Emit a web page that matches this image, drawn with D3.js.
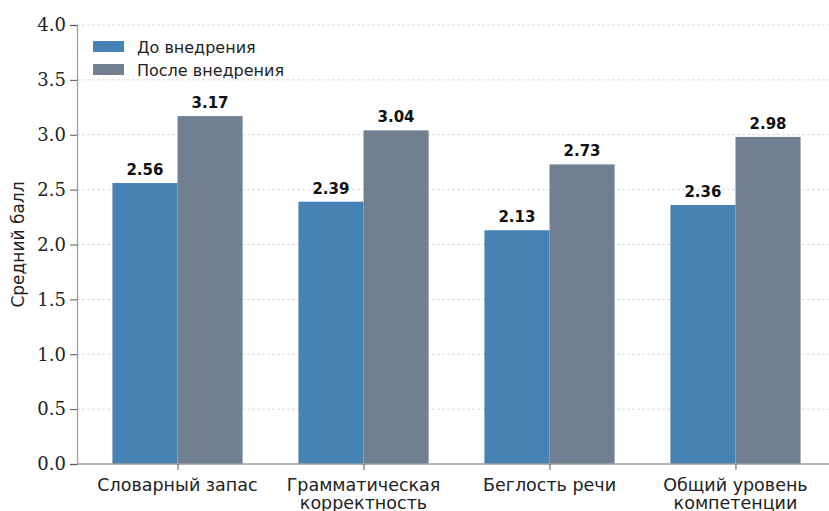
<!DOCTYPE html>
<html><head><meta charset="utf-8">
<script src="https://cdn.jsdelivr.net/npm/d3@7"></script>
<style>body{margin:0;background:#fff}</style>
</head><body>
<svg id="c" width="829" height="511"></svg>
<script>
const categories = [["Словарный запас"], ["Грамматическая", "корректность"], ["Беглость речи"], ["Общий уровень", "компетенции"]];
const seriesNames = ["До внедрения", "После внедрения"];
const before = [2.56, 2.39, 2.13, 2.36];
const after = [3.17, 3.04, 2.73, 2.98];
const yTicks = [0, 0.5, 1.0, 1.5, 2.0, 2.5, 3.0, 3.5, 4.0];
const colors = ["#4682B4", "#708090"];

const svg = d3.select("#c");
const mLeft = 77, mTop = 25, mBottom = 464;
const x = d3.scaleLinear().domain([-0.535, 3.535]).range([78, 835]);
const y = d3.scaleLinear().domain([0, 4]).range([mBottom, mTop]);
const bw = 0.35;

// grid
svg.append("g").selectAll("line").data(yTicks).join("line")
  .attr("x1", mLeft).attr("x2", 829).attr("y1", d => y(d)).attr("y2", d => y(d))
  .attr("stroke", "#d0d0d0").attr("stroke-width", 0.8).attr("stroke-dasharray", "3,2");

// bars
const series = [before, after];
series.forEach((vals, s) => {
  const off = s === 0 ? -bw / 2 : bw / 2;
  svg.append("g").selectAll("rect").data(vals).join("rect")
    .attr("x", (d, i) => x(i + off - bw / 2))
    .attr("width", (d, i) => x(i + off + bw / 2) - x(i + off - bw / 2))
    .attr("y", d => y(d)).attr("height", d => y(0) - y(d))
    .attr("fill", colors[s]);
  svg.append("g").selectAll("text").data(vals).join("text")
    .attr("x", (d, i) => x(i + off)).attr("y", d => y(d) - 8)
    .attr("text-anchor", "middle").attr("font-family", "DejaVu Sans").attr("font-weight", "bold")
    .attr("font-size", 15).attr("fill", "#111").text(d => d.toFixed(2));
});

// y axis
const yAxis = d3.axisLeft(y).tickValues(yTicks).tickFormat(d3.format(".1f")).tickSize(7).tickPadding(4);
const gy = svg.append("g").attr("transform", `translate(${mLeft},0)`).call(yAxis);
gy.attr("font-family", null).attr("font-size", null);
gy.select(".domain").attr("stroke", "#a0a0a0").attr("stroke-width", 1.3);
gy.selectAll(".tick line").attr("stroke", "#555");
gy.selectAll("text").style("font-family", "'DejaVu Serif', serif").style("font-size", "18px").attr("fill", "#222");

// x axis
const xAxis = d3.axisBottom(x).tickValues([0, 1, 2, 3]).tickSize(6).tickFormat("");
const gx = svg.append("g").attr("transform", `translate(0,${mBottom})`).call(xAxis);
gx.select(".domain").attr("stroke", "#a0a0a0").attr("stroke-width", 1.3).attr("d", `M${mLeft},0H829`);
gx.selectAll(".tick line").attr("stroke", "#555");
categories.forEach((lines, i) => {
  const t = svg.append("text").attr("x", x(i)).attr("y", mBottom + 27)
    .attr("text-anchor", "middle").attr("font-family", "DejaVu Sans").attr("font-size", 17.5).attr("fill", "#222");
  lines.forEach((l, j) => t.append("tspan").attr("x", x(i)).attr("dy", j === 0 ? 0 : 18).text(l));
});

// y label
svg.append("text").attr("transform", `translate(24,${(mTop + mBottom) / 2}) rotate(-90)`)
  .attr("text-anchor", "middle").attr("font-family", "DejaVu Sans").attr("font-size", 17).attr("fill", "#222")
  .text("Средний балл");

// legend
const lg = svg.append("g").attr("transform", "translate(93,41)");
seriesNames.forEach((n, i) => {
  lg.append("rect").attr("x", 0).attr("y", i * 23).attr("width", 31).attr("height", 11).attr("fill", colors[i]);
  lg.append("text").attr("x", 44).attr("y", i * 23 + 11.5).attr("font-family", "DejaVu Sans")
    .attr("font-size", 16).attr("fill", "#222").text(n);
});
</script>
</body></html>
